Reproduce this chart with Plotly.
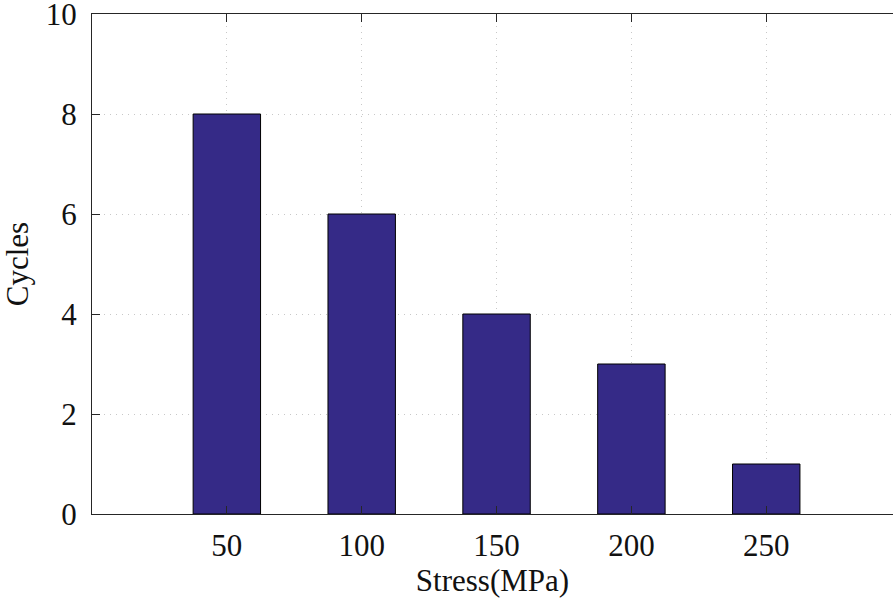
import plotly.graph_objects as go

stress = [50, 100, 150, 200, 250]
cycles = [8, 6, 4, 3, 1]
x_ticks = [50, 100, 150, 200, 250]
y_ticks = [0, 2, 4, 6, 8, 10]

fig = go.Figure(go.Bar(
    x=stress, y=cycles, width=25,
    marker=dict(color="#352a87", line=dict(color="black", width=1)),
))

font = dict(family="Liberation Serif", color="#111111")

fig.update_layout(
    width=893, height=606,
    margin=dict(l=92, r=0, t=14, b=92),
    plot_bgcolor="white", paper_bgcolor="white",
    showlegend=False,
    font=font,
)
fig.update_xaxes(
    range=[0, 297], tickvals=x_ticks, ticktext=[str(v) for v in x_ticks],
    ticks="inside", ticklen=8, tickcolor="#262626", tickwidth=1,
    showline=True, linecolor="#262626", linewidth=1, mirror="ticks",
    showgrid=True, gridcolor="#c8c8c8", griddash="1px,5px", gridwidth=1,
    zeroline=False, automargin=False,
    tickfont=dict(size=31, **font),
    ticklabelstandoff=4, ticklabeloverflow="allow",
    title=dict(text="Stress(MPa)", font=dict(size=31, **font), standoff=6),
)
fig.update_yaxes(
    range=[0, 10], tickvals=y_ticks,
    ticks="inside", ticklen=8, tickcolor="#262626", tickwidth=1,
    showline=True, linecolor="#262626", linewidth=1, mirror=False,
    showgrid=True, gridcolor="#c8c8c8", griddash="1px,5px", gridwidth=1,
    zeroline=False, automargin=False,
    tickfont=dict(size=31, **font),
    ticklabelstandoff=8, ticklabeloverflow="allow",
    title=dict(text="Cycles", font=dict(size=31, **font), standoff=16),
)

fig.write_html(
    "out.html",
    config={"displayModeBar": False},
    post_script="document.body.style.margin='0';document.body.style.overflow='hidden';",
)
